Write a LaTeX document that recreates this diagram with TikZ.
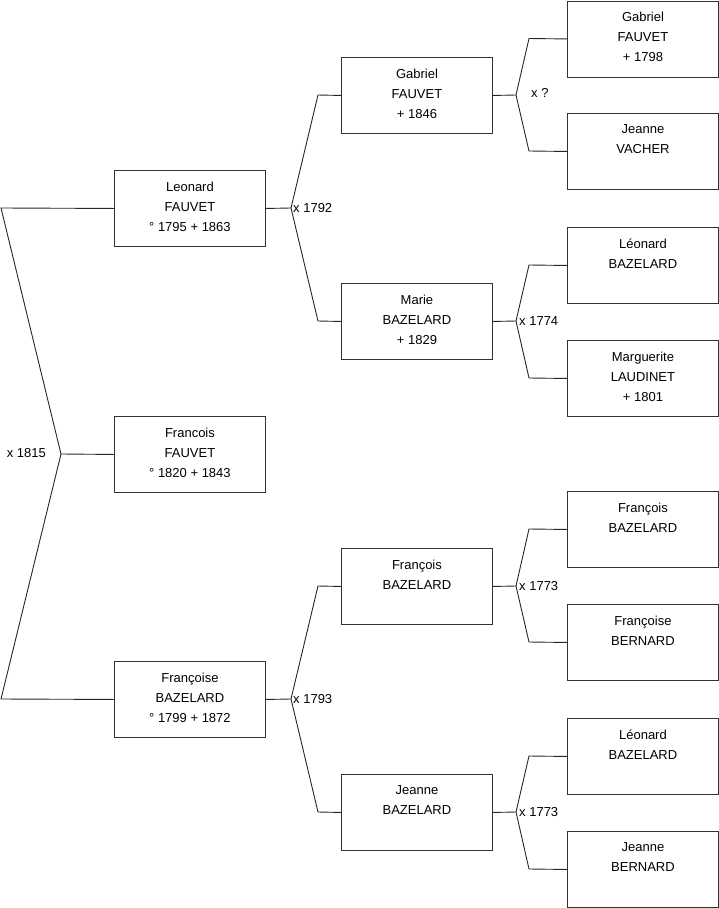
\documentclass[tikz,border=0pt]{standalone}
\usepackage{fontspec}
\setmainfont{Liberation Sans}
\newcommand\personbox[4]{%
  \node[pbox] (#1) at (#2,#3) {};
  \node[ptxt] (#1t) at (#1.north) {#4};}
\begin{document}
\begin{tikzpicture}[x=1pt,y=-1pt,
  pbox/.style={draw=black!80,line width=0.9pt,rectangle,minimum width=151pt,minimum height=76pt,inner sep=0pt,anchor=north west,fill=white},
  ptxt/.style={anchor=north,align=center,inner sep=0pt,yshift=-11.5pt,font=\fontsize{13}{20}\selectfont,execute at begin node=\strut},
  conn/.style={draw=black!85,line width=0.9pt},
  mlbl/.style={font=\fontsize{13}{20}\selectfont,inner sep=0pt}]
\useasboundingbox (0,0) rectangle (719,908);
% column 1
\personbox{leo}{114}{170}{Leonard\\FAUVET\\° 1795 + 1863}
\personbox{fra}{114}{416}{Francois\\FAUVET\\° 1820 + 1843}
\personbox{fse}{114}{661}{Françoise\\BAZELARD\\° 1799 + 1872}
% column 2
\personbox{gab}{341}{57}{Gabriel\\FAUVET\\+ 1846}
\personbox{mar}{341}{283}{Marie\\BAZELARD\\+ 1829}
\personbox{fco}{341}{548}{François\\BAZELARD}
\personbox{jea}{341}{774}{Jeanne\\BAZELARD}
% column 3
\personbox{ga3}{567}{0.5}{Gabriel\\FAUVET\\+ 1798}
\personbox{jv3}{567}{113}{Jeanne\\VACHER}
\personbox{lb3}{567}{227}{Léonard\\BAZELARD}
\personbox{ml3}{567}{340}{Marguerite\\LAUDINET\\+ 1801}
\personbox{fb3}{567}{491}{François\\BAZELARD}
\personbox{fe3}{567}{604}{Françoise\\BERNARD}
\personbox{lc3}{567}{718}{Léonard\\BAZELARD}
\personbox{jb3}{567}{831}{Jeanne\\BERNARD}
% bracket points
\coordinate (r1) at (1,208);
\coordinate (r0) at (61,454);
\coordinate (r2) at (1,699);
\coordinate (p1) at (291,208);
\coordinate (t1) at (318,95);
\coordinate (u1) at (318,321);
\coordinate (p2) at (291,699);
\coordinate (t2) at (318,586);
\coordinate (u2) at (318,812);
\coordinate (p3) at (516,95);
\coordinate (t3) at (529,38.5);
\coordinate (u3) at (529,151);
\coordinate (p4) at (516,321);
\coordinate (t4) at (529,265);
\coordinate (u4) at (529,378);
\coordinate (p5) at (516,586);
\coordinate (t5) at (529,529);
\coordinate (u5) at (529,642);
\coordinate (p6) at (516,812);
\coordinate (t6) at (529,756);
\coordinate (u6) at (529,869);
% connectors
\draw[conn] (leo.west) -- (r1) -- (r0) -- (r2) -- (fse.west);
\draw[conn] (r0) -- (fra.west);
\draw[conn] (leo.east) -- (p1);
\draw[conn] (gab.west) -- (t1) -- (p1) -- (u1) -- (mar.west);
\draw[conn] (fse.east) -- (p2);
\draw[conn] (fco.west) -- (t2) -- (p2) -- (u2) -- (jea.west);
\draw[conn] (gab.east) -- (p3);
\draw[conn] (ga3.west) -- (t3) -- (p3) -- (u3) -- (jv3.west);
\draw[conn] (mar.east) -- (p4);
\draw[conn] (lb3.west) -- (t4) -- (p4) -- (u4) -- (ml3.west);
\draw[conn] (fco.east) -- (p5);
\draw[conn] (fb3.west) -- (t5) -- (p5) -- (u5) -- (fe3.west);
\draw[conn] (jea.east) -- (p6);
\draw[conn] (lc3.west) -- (t6) -- (p6) -- (u6) -- (jb3.west);
% marriage labels
\node[mlbl,anchor=east] (m0) at (46,453) {x 1815};
\node[mlbl,anchor=west] (m1) at (293,208) {x 1792};
\node[mlbl,anchor=west] (m2) at (293,699) {x 1793};
\node[mlbl,anchor=west] (m3) at (531,93) {x ?};
\node[mlbl,anchor=west] (m4) at (519,321) {x 1774};
\node[mlbl,anchor=west] (m5) at (519,586) {x 1773};
\node[mlbl,anchor=west] (m6) at (519,812) {x 1773};
\end{tikzpicture}
\end{document}
